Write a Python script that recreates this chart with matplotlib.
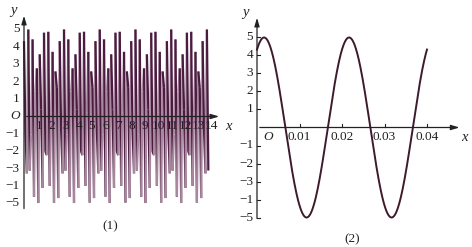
import numpy as np
import matplotlib
matplotlib.use('Agg')
import matplotlib.pyplot as plt
from matplotlib.collections import LineCollection

# function (2): y = A*sin(w*x + phi)
amp = 5
omega = 100 * np.pi
phase = np.pi / 3

# panel (1): same function, sampled coarsely over [0, 13.9]
x1_start, x1_stop, x1_step = 0.0, 13.9, 0.1072
# panel (2): fine sampling over [0, 0.04]
x2_start, x2_stop = 0.0, 0.04

y_ticks = [5, 4, 3, 2, 1, -1, -2, -3, -4, -5]
y_labels = ['5', '4', '3', '2', '1', '\u22121', '\u22122', '\u22123', '\u22121', '\u22125']
x1_ticks = list(range(1, 15))
x2_ticks = [0.01, 0.02, 0.03, 0.04]
x2_labels = ['0.01', '0.02', '0.03', '0.04']

plt.rcParams['font.family'] = ['Liberation Serif', 'DejaVu Serif']
W, H = 472, 247
fig = plt.figure(figsize=(W / 100, H / 100), dpi=100)
fig.patch.set_facecolor('white')

def make_axes(box, origin, scale):
    # box = (left, top, right, bottom) in pixels, origin px, scale px per unit
    l, t, r, b = box
    ax = fig.add_axes([l / W, 1 - b / H, (r - l) / W, (b - t) / H])
    ax.set_xlim((l - origin[0]) / scale[0], (r - origin[0]) / scale[0])
    ax.set_ylim((origin[1] - b) / scale[1], (origin[1] - t) / scale[1])
    ax.axis('off')
    return ax

fs = 9.5
ink = '#222222'
arrow = dict(arrowstyle='-|>,head_length=0.5,head_width=0.15', color=ink, lw=0.9)

# ---------- panel (1)
ax1 = make_axes((5, 3, 236, 215), (24, 116.5), (13.33, 17.4))
xs = np.arange(x1_start, x1_stop, x1_step)
ys = amp * np.sin(omega * xs + phase)
pts = np.column_stack([xs, ys])
segs = np.stack([pts[:-1], pts[1:]], axis=1)
cols = ['#a9879f' if s[1, 1] > s[0, 1] else '#4a1c40' for s in segs]
ax1.add_collection(LineCollection(segs, colors=cols, linewidths=1.6))

ax1.annotate('', xy=(14.85, 0), xytext=(0, 0), arrowprops=arrow)
ax1.annotate('', xy=(0, 5.95), xytext=(0, -5.45), arrowprops=arrow)
for v, s in zip(y_ticks, y_labels):
    ax1.text(-0.35, v, s, ha='right', va='center', fontsize=fs, color=ink)
for v in x1_ticks:
    ax1.text(v + 0.1, -0.55, str(v), ha='center', va='center', fontsize=fs, color=ink)
ax1.text(-0.7, 0.05, 'O', ha='center', va='center', fontsize=fs, style='italic', color=ink)
ax1.text(15.3, -0.55, 'x', ha='center', va='center', fontsize=fs + 1, style='italic', color=ink)
ax1.text(-0.8, 6.1, 'y', ha='center', va='center', fontsize=fs + 1, style='italic', color=ink)
ax1.text(6.45, -6.3, '(1)', ha='center', va='center', fontsize=fs, color=ink, clip_on=False)

# ---------- panel (2)
ax2 = make_axes((236, 3, 470, 232), (257, 127.5), (4250, 18.0))
xf = np.linspace(x2_start, x2_stop, 600)
ax2.plot(xf, amp * np.sin(omega * xf + phase), color='#3d1a2c', lw=1.4)

ax2.annotate('', xy=(0.0483, 0), xytext=(0, 0), arrowprops=arrow)
ax2.annotate('', xy=(0, 6.25), xytext=(0, -5.2), arrowprops=arrow)
for v, s in zip(y_ticks, y_labels):
    ax2.plot([0, 0.0007], [v, v], color=ink, lw=0.8)
    ax2.text(-0.0009, v, s, ha='right', va='center', fontsize=fs, color=ink)
for v, s in zip(x2_ticks, x2_labels):
    ax2.plot([v, v], [0, 0.2], color=ink, lw=0.8)
    ax2.text(v, -0.55, s, ha='center', va='center', fontsize=fs, color=ink)
ax2.text(0.0026, -0.55, 'O', ha='center', va='center', fontsize=fs, style='italic', color=ink)
ax2.text(0.0488, -0.55, 'x', ha='center', va='center', fontsize=fs + 1, style='italic', color=ink)
ax2.text(-0.0028, 6.4, 'y', ha='center', va='center', fontsize=fs + 1, style='italic', color=ink)
ax2.text(0.0225, -6.2, '(2)', ha='center', va='center', fontsize=fs, color=ink, clip_on=False)

fig.savefig('out.png', dpi=100)
